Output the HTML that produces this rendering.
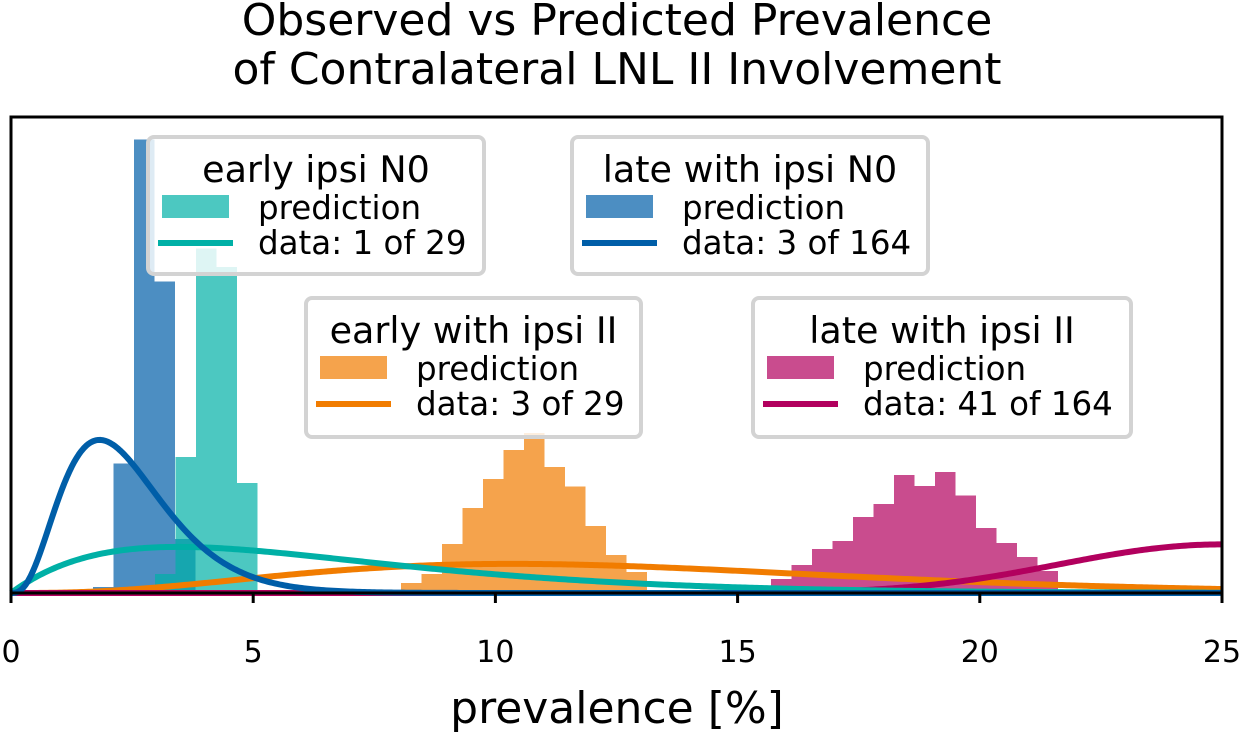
<!DOCTYPE html>
<html><head><meta charset="utf-8"><style>
body{margin:0;background:#fff}
svg{display:block;font-family:"DejaVu Sans","Liberation Sans",sans-serif}
</style></head><body>
<svg id="chart" width="1244" height="732" viewBox="0 0 1244 732" xmlns="http://www.w3.org/2000/svg">
<text x="617" y="35" font-size="44" text-anchor="middle">Observed vs Predicted Prevalence</text>
<text x="617" y="84" font-size="44" text-anchor="middle">of Contralateral LNL II Involvement</text>
<g id="plot"></g>
<g id="legends"></g>
<text x="617" y="723" font-size="44" text-anchor="middle">prevalence [%]</text>
</svg>
<script>
const xTicks = [0, 5, 10, 15, 20, 25];
const groupNames = ["late with ipsi N0", "early ipsi N0", "early with ipsi II", "late with ipsi II"];
const groupColors = ["#005ea8", "#00b0a6", "#f17c00", "#b2005e"];
const dataK = [3, 1, 3, 41];
const dataN = [164, 29, 29, 164];
const binWidth = 0.423;
const histStart = [1.69, 2.97, 8.05, 15.69];
const histBlue = [1.5, 31.5, 110.5, 75.9, 13.2];
const histTeal = [4.6, 33.2, 83.9, 79.5, 26.8];
const histOrange = [2.4, 4.6, 12, 20.7, 27.8, 34.9, 39, 30.7, 25.9, 16.3, 9.3, 5.1];
const histMagenta = [3.4, 6.8, 10.7, 12.7, 18.5, 21.7, 28.8, 26.1, 29.5, 23.7, 15.9, 12.2, 8.8, 5.4];
const hists = [histBlue, histTeal, histOrange, histMagenta];

const X0 = 11, X1 = 1222, Y0 = 593, Y1 = 117;
const xMax = 25, yMax = 116;
const sx = v => X0 + v / xMax * (X1 - X0);
const sy = v => Y0 - v / yMax * (Y0 - Y1);
const NS = "http://www.w3.org/2000/svg";
const plot = document.getElementById('plot');
function mk(tag, attrs, parent){const e=document.createElementNS(NS,tag);for(const k in attrs)e.setAttribute(k,attrs[k]);parent.appendChild(e);return e;}

function lgamma(z){const c=[76.18009172947146,-86.50532032941677,24.01409824083091,-1.231739572450155,0.1208650973866179e-2,-0.5395239384953e-5];let x=z,y=z,t=x+5.5;t-=(x+0.5)*Math.log(t);let s=1.000000000190015;for(let j=0;j<6;j++)s+=c[j]/++y;return -t+Math.log(2.5066282746310005*s/x);}
function betaPdfPct(p,a,b){ if(p<=0||p>=1) return 0; const lb=lgamma(a)+lgamma(b)-lgamma(a+b); return Math.exp((a-1)*Math.log(p)+(b-1)*Math.log(1-p)-lb); }

// histograms
hists.forEach((h,gi)=>{
  const g = mk('g',{},plot);
  
  
  h.forEach((v,i)=>{
    const x0 = histStart[gi] + i*binWidth;
    const r = mk('rect',{x:sx(x0),y:sy(v),width:sx(x0+binWidth)-sx(x0),height:Y0-sy(v),fill:groupColors[gi],'fill-opacity':0.7,'shape-rendering':'crispEdges'},g);
    
    
  });
});
// curves
const curveOrder=[2,3,1,0];
curveOrder.forEach(gi=>{
  const a = dataK[gi]+1, b = dataN[gi]-dataK[gi]+1;
  let d='';
  for(let i=0;i<=500;i++){const v=i/500*xMax;const y=betaPdfPct(v/100,a,b);d+=(i?'L':'M')+sx(v).toFixed(2)+' '+sy(y).toFixed(2);}
  const p = mk('path',{d:d,fill:'none',stroke:groupColors[gi],'stroke-width':6,'stroke-linejoin':'round'},plot);
  
  
});
// frame
const fr = mk('rect',{x:X0,y:Y1,width:X1-X0,height:Y0-Y1,fill:'none',stroke:'#000','stroke-width':3},plot);


xTicks.forEach(t=>{
  const l = mk('line',{x1:sx(t),x2:sx(t),y1:Y0,y2:Y0+10,stroke:'#000','stroke-width':3},plot);
  
  
  const tx = mk('text',{x:sx(t),y:662,'font-size':30,'text-anchor':'middle'},plot);
  tx.textContent = t;
  
  
});
// legends
const boxes = [
 {x:572,y:137,w:356,h:137,g:0,label:"data: 3 of 164"},
 {x:148,y:137,w:336,h:137,g:1,label:"data: 1 of 29"},
 {x:306,y:298,w:335,h:139,g:2,label:"data: 3 of 29"},
 {x:753,y:298,w:378,h:139,g:3,label:"data: 41 of 164"}];
const lg = document.getElementById('legends');
boxes.forEach(bx=>{
  const g = mk('g',{},lg);
  
  
  mk('rect',{x:bx.x,y:bx.y,width:bx.w,height:bx.h,rx:6,fill:'#fff','fill-opacity':0.82,stroke:'#d3d3d3','stroke-width':4},g);
  const t = mk('text',{x:bx.x+bx.w/2,y:bx.y+45,'font-size':36.5,'text-anchor':'middle'},g);
  t.textContent = groupNames[bx.g];
  mk('rect',{x:bx.x+14,y:bx.y+58,width:67,height:23,fill:groupColors[bx.g],'fill-opacity':0.7},g);
  const t2 = mk('text',{x:bx.x+110,y:bx.y+82,'font-size':32.5},g);
  t2.textContent = "prediction";
  mk('line',{x1:bx.x+10,x2:bx.x+85,y1:bx.y+106,y2:bx.y+106,stroke:groupColors[bx.g],'stroke-width':6},g);
  const t3 = mk('text',{x:bx.x+110,y:bx.y+117,'font-size':32.5},g);
  t3.textContent = bx.label;
});
</script>
</body></html>
